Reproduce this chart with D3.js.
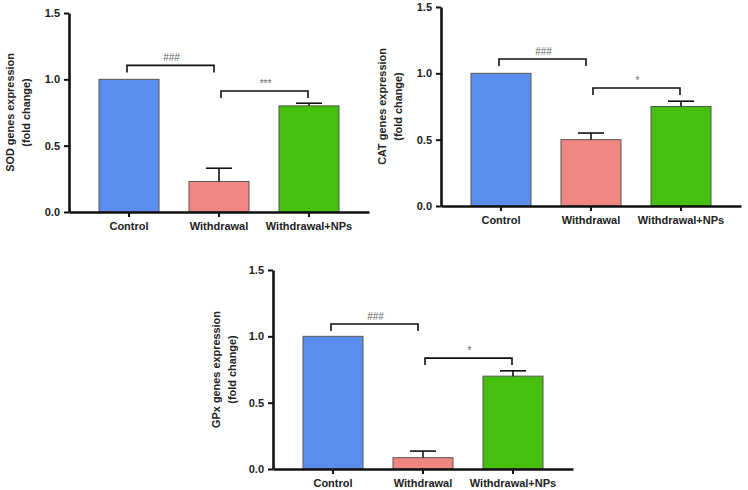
<!DOCTYPE html>
<html><head><meta charset="utf-8">
<script src="https://cdn.jsdelivr.net/npm/d3@7"></script>
<style>body{margin:0;background:#fff}svg{display:block}</style>
</head><body>
<svg id="c" width="748" height="490"></svg>
<script>
const categories = ["Control", "Withdrawal", "Withdrawal+NPs"];
const colors = ["#5B8DEF", "#F08682", "#45C00E"];
const yTicks = [0, 0.5, 1.0, 1.5];
const sodValues = [1.0, 0.23, 0.80];
const sodErrors = [0, 0.33, 0.82];
const catValues = [1.0, 0.50, 0.75];
const catErrors = [0, 0.55, 0.79];
const gpxValues = [1.0, 0.085, 0.70];
const gpxErrors = [0, 0.135, 0.74];
const sodLabel = ["SOD genes expression", "(fold change)"];
const catLabel = ["CAT genes expression", "(fold change)"];
const gpxLabel = ["GPx genes expression", "(fold change)"];
const sodSig = [{a:0,b:1,text:"###",y:1.105},{a:1,b:2,text:"***",y:0.912}];
const catSig = [{a:0,b:1,text:"###",y:1.108},{a:1,b:2,text:"*",y:0.889}];
const gpxSig = [{a:0,b:1,text:"###",y:1.093},{a:1,b:2,text:"*",y:0.836}];

const svg = d3.select("#c");
const font = "Arial, 'Liberation Sans', sans-serif";

function panel(x0, yTop, yBot, values, errors, label, sigs, labelX) {
  const g = svg.append("g");
  const x = d3.scaleBand().domain(categories).range([x0, x0 + 300]).paddingInner(1/3).paddingOuter(1/3);
  const y = d3.scaleLinear().domain([0, 1.5]).range([yBot, yTop]);
  // bars
  g.selectAll("rect").data(categories).enter().append("rect")
    .attr("x", d => x(d)).attr("width", x.bandwidth())
    .attr("y", (d,i) => y(values[i])).attr("height", (d,i) => y(0) - y(values[i]))
    .attr("fill", (d,i) => colors[i]).attr("stroke", "#555").attr("stroke-width", 1);
  // error bars
  categories.forEach((c, i) => {
    if (errors[i] > values[i]) {
      const cx = x(c) + x.bandwidth()/2;
      g.append("line").attr("x1", cx).attr("x2", cx).attr("y1", y(values[i])).attr("y2", y(errors[i]))
        .attr("stroke", "#111").attr("stroke-width", 1.6);
      g.append("line").attr("x1", cx - 13).attr("x2", cx + 13).attr("y1", y(errors[i])).attr("y2", y(errors[i]))
        .attr("stroke", "#111").attr("stroke-width", 1.6);
    }
  });
  // axes
  const ya = g.append("g").attr("transform", `translate(${x0},0)`)
    .call(d3.axisLeft(y).tickValues(yTicks).tickFormat(d3.format(".1f")).tickSize(5).tickSizeOuter(0));
  const xa = g.append("g").attr("transform", `translate(0,${yBot})`)
    .call(d3.axisBottom(x).tickSize(5).tickSizeOuter(0));
  [ya, xa].forEach(a => {
    a.select(".domain").attr("stroke", "#111").attr("stroke-width", 2.6);
    a.selectAll(".tick line").attr("stroke", "#111").attr("stroke-width", 2);
    a.selectAll("text").attr("font-family", font).attr("font-weight", "bold").attr("font-size", 11).attr("fill", "#222");
  });
  ya.selectAll("text").attr("dx", "-1");
  xa.selectAll("text").attr("dy", "0.95em");
  // y label
  const lt = g.append("text").attr("transform", `translate(${labelX},${(yTop + yBot)/2}) rotate(-90)`)
    .attr("text-anchor", "middle").attr("font-family", font).attr("font-weight", "bold").attr("font-size", 10.9).attr("fill", "#222");
  lt.append("tspan").attr("x", 0).attr("dy", 0).text(label[0]);
  lt.append("tspan").attr("x", 0).attr("dy", 15.5).text(label[1]);
  // significance brackets
  sigs.forEach((s, k) => {
    const ca = x(categories[s.a]) + x.bandwidth()/2;
    const cb = x(categories[s.b]) + x.bandwidth()/2;
    const xa1 = k === 0 ? ca - 2 : ca + 2;
    const xb1 = k === 0 ? cb - 5 : cb - 1;
    const yy = y(s.y);
    const p = d3.path();
    p.moveTo(xa1, yy + 7); p.lineTo(xa1, yy); p.lineTo(xb1, yy); p.lineTo(xb1, yy + 7);
    g.append("path").attr("d", p.toString()).attr("fill", "none").attr("stroke", "#111").attr("stroke-width", 1.6);
    g.append("text").attr("x", (xa1 + xb1)/2 + 1).attr("y", yy - 4).attr("text-anchor", "middle")
      .attr("font-family", font).attr("font-size", 10).attr("fill", "#666").text(s.text);
  });
}

panel(69, 13, 212, sodValues, sodErrors, sodLabel, sodSig, 14);
panel(441, 7, 206, catValues, catErrors, catLabel, catSig, 386);
panel(273, 270, 469, gpxValues, gpxErrors, gpxLabel, gpxSig, 220);
</script>
</body></html>
